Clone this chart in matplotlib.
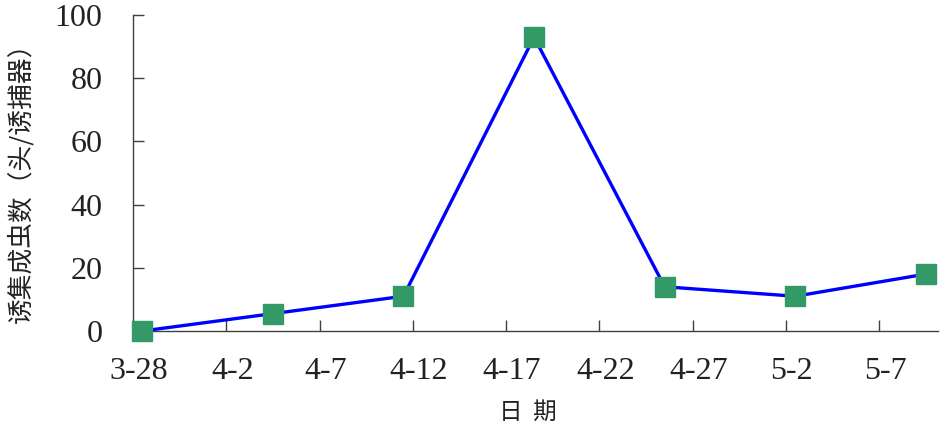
import matplotlib
matplotlib.use("Agg")
import matplotlib.pyplot as plt
from matplotlib.transforms import ScaledTranslation

# data: days since 3-28 and counts
days = [0.5, 7.5, 14.5, 21.5, 28.5, 35.5, 42.5]
counts = [0, 5.5, 11, 93, 14, 11, 18]
tick_days = [0, 5, 10, 15, 20, 25, 30, 35, 40]
tick_labels = ["3-28", "4-2", "4-7", "4-12", "4-17", "4-22", "4-27", "5-2", "5-7"]
y_ticks = [0, 20, 40, 60, 80, 100]

fig = plt.figure(figsize=(9.4, 4.3), dpi=100)
ax = fig.add_axes([133/940, 1-331/430, 1-133/940-0.002, (331-15)/430])

ax.plot(days, counts, color="#0000ff", lw=2.4, marker="s", ms=14,
        markerfacecolor="#339966", markeredgecolor="#339966", clip_on=False, zorder=3)

ax.set_xlim(0, 43.16)
ax.set_ylim(0, 100)
ax.set_xticks(tick_days)
ax.set_xticklabels(tick_labels)
ax.set_yticks(y_ticks)

for s in ["top", "right"]:
    ax.spines[s].set_visible(False)
for s in ["left", "bottom"]:
    ax.spines[s].set_color("#404040")
    ax.spines[s].set_linewidth(1.0)

ax.tick_params(axis="both", direction="in", length=8, width=1.0, color="#404040",
               labelsize=23, labelcolor="#222222")
ax.tick_params(axis="x", pad=19)
ax.tick_params(axis="y", pad=22)
shift = ScaledTranslation(6/100, 0, fig.dpi_scale_trans)
for lab in ax.get_xticklabels():
    lab.set_family(["Liberation Serif", "DejaVu Serif"])
    lab.set_transform(lab.get_transform() + shift)
for lab in ax.get_yticklabels():
    lab.set_family(["Liberation Serif", "DejaVu Serif"])

cjk = ["Noto Sans CJK SC", "DejaVu Sans"]
fig.text(528/940, 1-412/430, "日  期", ha="center", va="center", fontsize=17,
         family=cjk, color="#222222", fontweight="light")
fig.text(21/940, 1-176/430, "诱集成虫数（头/诱捕器）", ha="center", va="center",
         rotation=90, fontsize=18.5, family=cjk, color="#222222", fontweight="light")

fig.savefig("out.png", dpi=100)
